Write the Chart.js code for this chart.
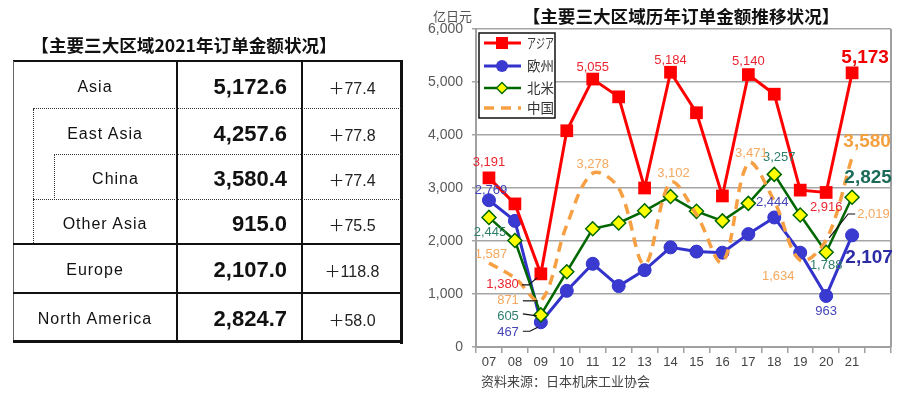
<!DOCTYPE html>
<html><head><meta charset="utf-8">
<script src="https://cdn.jsdelivr.net/npm/chart.js@4.4.1/dist/chart.umd.min.js"></script>
<style>
html,body{margin:0;padding:0;background:#fff;width:900px;height:397px;overflow:hidden;}
canvas{position:absolute;left:0;top:0;}
.abs{position:absolute;}
.ln{position:absolute;background:#111;}
.dh{position:absolute;height:0;border-top:1px dotted #333;}
.dv{position:absolute;width:0;border-left:1px dotted #333;}
.cell{position:absolute;display:flex;align-items:center;box-sizing:border-box;padding-top:3px;}
.lab{justify-content:center;font:16px "Liberation Sans","Noto Sans",sans-serif;letter-spacing:1px;color:#111;}
.val{justify-content:flex-end;font:bold 22px "Liberation Sans","Noto Sans",sans-serif;color:#111;}
.chg{justify-content:center;font:16px "Liberation Sans","Noto Sans CJK JP",sans-serif;color:#222;}
.cjk{font-family:"Noto Sans CJK SC","Noto Sans",sans-serif;white-space:nowrap;}
</style></head>
<body>
<canvas id="c" width="900" height="397"></canvas>
<div id="tbl"></div>
<div class="abs cjk" style="left:0;top:34px;width:368px;text-align:center;font-weight:bold;font-size:17.6px;line-height:22px;color:#111;">【主要三大区域2021年订单金额状况】</div>
<div class="abs cjk" style="left:481px;top:5px;width:400px;text-align:center;font-weight:bold;font-size:17.6px;line-height:22px;color:#111;">【主要三大区域历年订单金额推移状况】</div>
<div class="abs cjk" style="left:433px;top:7px;font-size:13px;line-height:18px;color:#555;">亿日元</div>
<div class="abs cjk" style="left:481px;top:372px;font-size:13px;line-height:18px;color:#444;">资料来源：日本机床工业协会</div>
<script>
// ---------- data ----------
const years = ['07','08','09','10','11','12','13','14','15','16','17','18','19','20','21',''];
const asiaValues   = [3191,2700,1380,4080,5055,4720,3000,5184,4420,2850,5140,4770,2960,2916,5173];
const europeValues = [2769,2380,467,1060,1570,1150,1450,1880,1800,1780,2130,2444,1780,963,2107];
const naValues     = [2445,2010,605,1420,2230,2340,2570,2840,2560,2380,2710,3257,2490,1788,2825];
const chinaValues  = [1587,1300,871,2300,3278,3000,1560,3102,2500,1600,3471,2750,1634,2019,3580];
const seriesNames  = ['アジア','欧州','北米','中国'];
const yTicks = [0,1000,2000,3000,4000,5000,6000];

const tableRegions = ['Asia','East Asia','China','Other Asia','Europe','North America'];
const tableAmounts = [5172.6,4257.6,3580.4,915.0,2107.0,2824.7];
const tableChanges = [77.4,77.8,77.4,75.5,118.8,58.0];

// ---------- table (HTML) ----------
(function(){
  const rowY = [61,109,155,200,244,293,342];
  const labLeft = [13,33,54,33,13,13];
  const t = document.getElementById('tbl');
  let h = '';
  const L=(x,y,w,hh)=>`<div class="ln" style="left:${x}px;top:${y}px;width:${w}px;height:${hh}px"></div>`;
  h += L(13,60,390,2);             // top
  h += `<div class="ln" style="left:13px;top:61px;width:1px;height:281px;background:#666"></div>`;
  h += L(400,60,3,284);            // right
  h += L(13,340,390,3);            // bottom
  h += L(176,61,1.5,281);
  h += L(301,61,1.5,281);
  h += L(13,243,390,2);
  h += L(13,292,390,1.5);
  h += `<div class="dh" style="left:33px;top:108px;width:368px"></div>`;
  h += `<div class="dh" style="left:54px;top:154px;width:347px"></div>`;
  h += `<div class="dh" style="left:33px;top:199px;width:368px"></div>`;
  h += `<div class="dv" style="left:33px;top:109px;height:134px"></div>`;
  h += `<div class="dv" style="left:54px;top:155px;height:45px"></div>`;
  for(let i=0;i<tableRegions.length;i++){
    const top=rowY[i], hh=rowY[i+1]-rowY[i];
    h += `<div class="cell lab" style="left:${labLeft[i]}px;width:${177-labLeft[i]}px;top:${top}px;height:${hh}px">${tableRegions[i]}</div>`;
    h += `<div class="cell val" style="left:177px;width:110px;top:${top}px;height:${hh}px">${tableAmounts[i].toLocaleString('en-US',{minimumFractionDigits:1,maximumFractionDigits:1})}</div>`;
    h += `<div class="cell chg" style="left:302px;width:100px;top:${top}px;height:${hh}px">＋${tableChanges[i].toFixed(1)}</div>`;
  }
  t.innerHTML = h;
})();

// ---------- chart ----------
const fmt = v => v.toLocaleString('en-US');
const COL = {asia:'#ff0000', eu:'#3333cc', na:'#006600', cn:'#f7a043'};
const labelColors = [
  ['#ea2530','#f00000'],
  ['#4444b8','#2b2ba6'],
  ['#2f7e6c','#1b6b58'],
  ['#f5a85e','#f4a040']
];
// [dataset, index, dx, dy, align, big, leader]
const labelSpecs = [
 [0,0,0,-15,'center'],
 [0,2,-22,11,'right',false,[[-19,11],[-12,11],[-4,4]]],
 [0,4,0,-12,'center'],
 [0,7,0,-12,'center'],
 [0,10,0,-13,'center'],
 [0,13,0,15,'center'],
 [0,14,13,-15,'center',true],
 [1,0,2,-10,'center'],
 [1,2,-22,10,'right',false,[[-18,9],[-11,9],[-3,5]]],
 [1,11,-2,-15,'center'],
 [1,13,0,15,'center'],
 [1,14,17,22,'center',true],
 [2,0,1,15,'center'],
 [2,2,-22,1,'right',false,[[-18,-1],[-4,1]]],
 [2,11,5,-17,'center'],
 [2,13,0,13,'center'],
 [2,14,16,-20,'center',true],
 [3,0,2,-8,'center'],
 [3,2,-22,0,'right',false,[[-18,0],[-3,0]]],
 [3,4,0,-9,'center'],
 [3,7,3,-9,'center'],
 [3,10,3,-10,'center'],
 [3,12,-22,16,'center'],
 [3,13,31,-26,'left',false,[[29,-26],[22,-26],[3,-2]]],
 [3,14,15,-15,'center',true]
];

const labelPlugin = {
  id:'labels',
  afterDatasetsDraw(chart){
    const ctx = chart.ctx;
    ctx.save();
    ctx.textBaseline='middle';
    for(const s of labelSpecs){
      const [ds,idx,dx,dy,align,big,leader] = s;
      const pt = chart.getDatasetMeta(ds).data[idx];
      const v = chart.data.datasets[ds].data[idx];
      if(leader){
        ctx.strokeStyle='#111'; ctx.lineWidth=1.2; ctx.setLineDash([]);
        ctx.beginPath();
        leader.forEach((p,k)=>{ const X=pt.x+p[0], Y=pt.y+p[1]; if(k===0) ctx.moveTo(X,Y); else ctx.lineTo(X,Y); });
        ctx.stroke();
      }
      ctx.font = big ? 'bold 19px "Liberation Sans", sans-serif' : '13px "Liberation Sans", sans-serif';
      ctx.fillStyle = labelColors[ds][big?1:0];
      ctx.textAlign = align;
      ctx.fillText(fmt(v), pt.x+dx, pt.y+dy);
    }
    ctx.restore();
  }
};

const framePlugin = {
  id:'frame',
  beforeDatasetsDraw(chart){
    const {ctx, chartArea:a} = chart;
    ctx.save();
    ctx.strokeStyle='#a0a0a0'; ctx.lineWidth=2;
    ctx.beginPath(); ctx.moveTo(a.right, a.top); ctx.lineTo(a.right, a.bottom); ctx.stroke();
    ctx.restore();
  }
};

const legendPlugin = {
  id:'customLegend',
  afterDraw(chart){
    const ctx = chart.ctx;
    const bx=479, by=33, bw=76, bh=85;
    ctx.save();
    ctx.fillStyle='#fff'; ctx.fillRect(bx,by,bw,bh);
    ctx.strokeStyle='#111'; ctx.lineWidth=1.5; ctx.strokeRect(bx,by,bw,bh);
    const rows=[43,66,88,108];
    const dss = chart.data.datasets;
    [0,1,2,3].forEach((di,k)=>{
      const d=dss[di], y=rows[k];
      ctx.strokeStyle=d.borderColor; ctx.lineWidth=d.borderWidth;
      ctx.setLineDash(d.borderDash||[]);
      ctx.beginPath(); ctx.moveTo(484,y); ctx.lineTo(521,y); ctx.stroke();
      ctx.setLineDash([]);
      const mx=502;
      if(d.pointStyle==='rect'){ ctx.fillStyle=d.pointBackgroundColor; ctx.fillRect(mx-6,y-6,12,12); }
      else if(d.pointStyle==='circle'){ ctx.fillStyle=d.pointBackgroundColor; ctx.beginPath(); ctx.arc(mx,y,6,0,Math.PI*2); ctx.fill(); }
      else if(d.pointStyle==='rectRot'){
        ctx.fillStyle=d.pointBackgroundColor; ctx.strokeStyle=d.pointBorderColor; ctx.lineWidth=1.3;
        ctx.beginPath(); ctx.moveTo(mx,y-5.5); ctx.lineTo(mx+5.5,y); ctx.lineTo(mx,y+5.5); ctx.lineTo(mx-5.5,y); ctx.closePath(); ctx.fill(); ctx.stroke();
      }
      ctx.fillStyle='#333'; ctx.font='13.5px "Noto Sans CJK JP", sans-serif';
      ctx.textAlign='left'; ctx.textBaseline='middle';
      ctx.fillText(seriesNames[di], 527, y, 27);
    });
    ctx.restore();
  }
};

new Chart(document.getElementById('c'), {
  type:'line',
  data:{
    labels: years,
    datasets:[
      {label:seriesNames[0], data:asiaValues, borderColor:COL.asia, backgroundColor:COL.asia, borderWidth:3,
       pointStyle:'rect', pointRadius:9, pointBackgroundColor:COL.asia, pointBorderColor:COL.asia, pointBorderWidth:0, order:0, tension:0},
      {label:seriesNames[1], data:europeValues, borderColor:COL.eu, backgroundColor:COL.eu, borderWidth:3,
       pointStyle:'circle', pointRadius:6.5, pointBackgroundColor:'#3a3ad0', pointBorderColor:'#3333cc', pointBorderWidth:1, order:3, tension:0},
      {label:seriesNames[2], data:naValues, borderColor:COL.na, backgroundColor:COL.na, borderWidth:2.5,
       pointStyle:'rectRot', pointRadius:7, pointBackgroundColor:'#ffff00', pointBorderColor:'#006600', pointBorderWidth:1.5, order:2, tension:0},
      {label:seriesNames[3], data:chinaValues, borderColor:COL.cn, backgroundColor:COL.cn, borderWidth:3.5, borderDash:[10,7],
       pointRadius:0, pointStyle:false, order:1, tension:0.35}
    ]
  },
  options:{
    responsive:false, animation:false, devicePixelRatio:1,
    layout:{padding:{left:420,right:9,top:29,bottom:0}},
    plugins:{legend:{display:false}, tooltip:{enabled:false}, title:{display:false}},
    scales:{
      x:{
        offset:true,
        grid:{display:true, drawOnChartArea:false, drawTicks:true, tickLength:6, color:'#a0a0a0', lineWidth:1.5, offset:true},
        border:{display:true, color:'#a0a0a0', width:2},
        ticks:{color:'#444', font:{family:'"Liberation Sans", sans-serif', size:13}, padding:2, maxRotation:0, autoSkip:false},
        afterFit(s){ s.height=50; }
      },
      y:{
        min:0, max:6000,
        afterBuildTicks(s){ s.ticks = yTicks.map(v=>({value:v})); },
        grid:{color:'#a6a6a6', lineWidth:1.5, tickLength:4, drawTicks:true},
        border:{display:true, color:'#a0a0a0', width:2},
        ticks:{color:'#595959', font:{family:'"Liberation Sans", sans-serif', size:14}, padding:9, callback:v=>fmt(v)},
        afterFit(s){ s.width=56; }
      }
    }
  },
  plugins:[framePlugin, labelPlugin, legendPlugin]
});
</script>
</body></html>
